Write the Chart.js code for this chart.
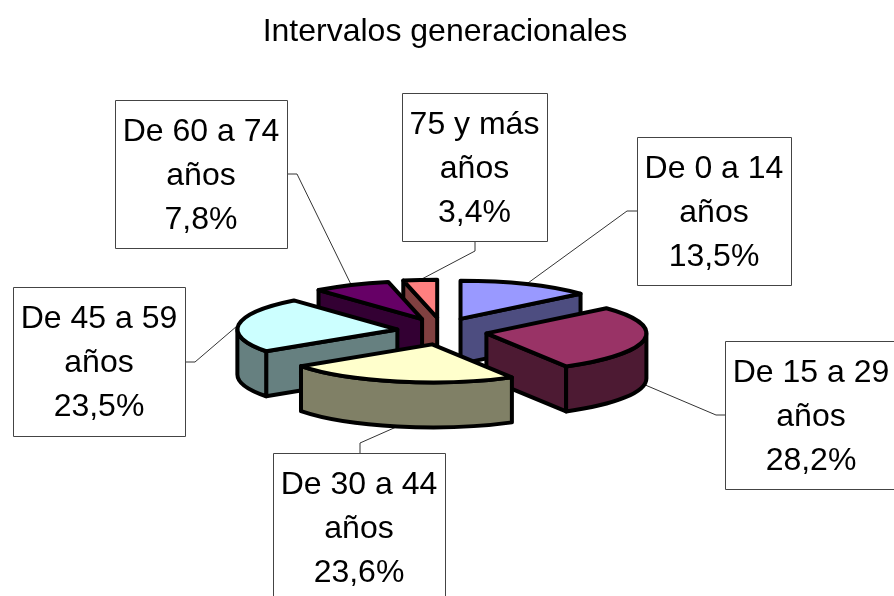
<!DOCTYPE html>
<html>
<head>
<meta charset="utf-8">
<title>Intervalos generacionales</title>
<script src="https://cdn.jsdelivr.net/npm/chart.js@4"></script>
<style>
  html, body { margin: 0; padding: 0; background: #ffffff; overflow: hidden; }
  canvas { display: block; }
</style>
</head>
<body>
<canvas id="pie" width="894" height="596"></canvas>
<script>
// Chart data
const tramos = ['De 0 a 14', 'De 15 a 29', 'De 30 a 44', 'De 45 a 59', 'De 60 a 74', '75 y más'];
const porcentajes = [13.5, 28.2, 23.6, 23.5, 7.8, 3.4];
const unidad = 'años';
const titulo = 'Intervalos generacionales';

// Slice colours: top face and the darker side walls
const coloresCara = ['#9999ff', '#993366', '#ffffcc', '#ccffff', '#660066', '#ff8080'];
const coloresPared = ['#4d4d80', '#4d1a33', '#808066', '#668080', '#330033', '#804040'];

// Label boxes: left, top, right, bottom, then the elbow of the leader line
const cajas = [
  { l: 637, t: 137, r: 791, b: 285, from: [637, 211], elbow: [627, 211] },
  { l: 725, t: 341, r: 897, b: 489, from: [725, 415], elbow: [716, 415] },
  { l: 273, t: 453, r: 445, b: 601, from: [360, 453], elbow: [360, 443] },
  { l: 13, t: 287, r: 185, b: 436, from: [185, 362], elbow: [195, 362] },
  { l: 115, t: 100, r: 287, b: 248, from: [287, 174], elbow: [297, 174] },
  { l: 402, t: 93, r: 547, b: 241, from: [475, 241], elbow: [475, 251] }
];

// Fake 3D settings
const FONT = '"Liberation Sans", Arial, sans-serif';
const TILT = 0.238;          // vertical squash of the pie
const EXPLODE = 45;          // distance of each slice from the centre
const EXPLODE_TILT = 0.3;    // vertical squash of that distance
const DEPTH = 45;            // height of the walls
const SHIFT_X = -3;          // pie sits a little left of the title
const OUTLINE = 4;

// Top-face apex of a slice, after explode
function apexOf(arc) {
  const mid = (arc.startAngle + arc.endAngle) / 2;
  return {
    x: arc.x + SHIFT_X + Math.cos(mid) * EXPLODE,
    y: arc.y + Math.sin(mid) * EXPLODE * EXPLODE_TILT
  };
}

function rimPoint(apex, radius, angle) {
  return { x: apex.x + Math.cos(angle) * radius, y: apex.y + Math.sin(angle) * radius * TILT };
}

function strokeBlack(ctx) {
  ctx.lineWidth = OUTLINE;
  ctx.lineJoin = 'round';
  ctx.strokeStyle = '#000000';
  ctx.stroke();
}

// Flat side from the apex to the rim, only if it faces the viewer
function drawRadialWall(ctx, apex, radius, angle, color) {
  const rim = rimPoint(apex, radius, angle);
  ctx.beginPath();
  ctx.moveTo(apex.x, apex.y);
  ctx.lineTo(rim.x, rim.y);
  ctx.lineTo(rim.x, rim.y + DEPTH);
  ctx.lineTo(apex.x, apex.y + DEPTH);
  ctx.closePath();
  ctx.fillStyle = color;
  ctx.fill();
  strokeBlack(ctx);
}

function drawWalls(ctx, arc, color) {
  const apex = apexOf(arc);
  const r = arc.outerRadius;
  if (Math.cos(arc.startAngle) < 0) drawRadialWall(ctx, apex, r, arc.startAngle, color);
  if (Math.cos(arc.endAngle) > 0) drawRadialWall(ctx, apex, r, arc.endAngle, color);

  // Curved wall, only the front half of the rim shows
  const from = Math.max(arc.startAngle, 0);
  const to = Math.min(arc.endAngle, Math.PI);
  if (to > from) {
    ctx.beginPath();
    ctx.ellipse(apex.x, apex.y, r, r * TILT, 0, from, to);
    ctx.ellipse(apex.x, apex.y + DEPTH, r, r * TILT, 0, to, from, true);
    ctx.closePath();
    ctx.fillStyle = color;
    ctx.fill();
    strokeBlack(ctx);
  }
}

function drawTop(ctx, arc) {
  const apex = apexOf(arc);
  // The library fills the face, squashed around the exploded apex
  ctx.save();
  ctx.translate(apex.x, apex.y);
  ctx.scale(1, TILT);
  ctx.translate(-arc.x, -arc.y);
  arc.draw(ctx);
  ctx.restore();
  // Outline in screen space so the pen width stays even
  ctx.beginPath();
  ctx.moveTo(apex.x, apex.y);
  ctx.ellipse(apex.x, apex.y, arc.outerRadius, arc.outerRadius * TILT, 0, arc.startAngle, arc.endAngle);
  ctx.closePath();
  strokeBlack(ctx);
}

function drawLeader(ctx, arc, caja) {
  const mid = (arc.startAngle + arc.endAngle) / 2;
  const tip = rimPoint(apexOf(arc), arc.outerRadius, mid);
  if (Math.sin(mid) > 0) tip.y += DEPTH;
  ctx.beginPath();
  ctx.moveTo(caja.from[0], caja.from[1]);
  ctx.lineTo(caja.elbow[0], caja.elbow[1]);
  ctx.lineTo(tip.x, tip.y);
  ctx.lineWidth = 1;
  ctx.strokeStyle = '#333333';
  ctx.stroke();
}

function drawLabel(ctx, index) {
  const caja = cajas[index];
  ctx.fillStyle = '#ffffff';
  ctx.fillRect(caja.l, caja.t, caja.r - caja.l, caja.b - caja.t);
  ctx.lineWidth = 1;
  ctx.strokeStyle = '#444444';
  ctx.strokeRect(caja.l + 0.5, caja.t + 0.5, caja.r - caja.l, caja.b - caja.t);

  const lines = [tramos[index], unidad, porcentajes[index].toFixed(1).replace('.', ',') + '%'];
  ctx.fillStyle = '#000000';
  ctx.font = '32px ' + FONT;
  ctx.textAlign = 'center';
  ctx.textBaseline = 'alphabetic';
  lines.forEach((line, n) => {
    ctx.fillText(line, (caja.l + caja.r) / 2, caja.t + 41 + n * 44);
  });
}

// Replaces the normal dataset draw so slices can be painted back to front
const pie3d = {
  id: 'pie3d',
  beforeDatasetDraw(chart) {
    const ctx = chart.ctx;
    const arcs = chart.getDatasetMeta(0).data;
    const order = arcs.map((arc, i) => i).sort((a, b) => {
      const midA = (arcs[a].startAngle + arcs[a].endAngle) / 2;
      const midB = (arcs[b].startAngle + arcs[b].endAngle) / 2;
      return Math.sin(midA) - Math.sin(midB);
    });

    arcs.forEach((arc, i) => drawLeader(ctx, arc, cajas[i]));
    order.forEach(i => {
      drawWalls(ctx, arcs[i], coloresPared[i]);
      drawTop(ctx, arcs[i]);
    });
    arcs.forEach((arc, i) => drawLabel(ctx, i));
    return false;
  }
};

new Chart(document.getElementById('pie'), {
  type: 'pie',
  data: {
    labels: tramos,
    datasets: [{
      data: porcentajes,
      backgroundColor: coloresCara,
      borderWidth: 0
    }]
  },
  options: {
    responsive: false,
    animation: false,
    radius: 160,
    layout: { padding: { right: 4, bottom: 1 } },
    plugins: {
      legend: { display: false },
      tooltip: { enabled: false },
      title: {
        display: true,
        text: titulo,
        color: '#000000',
        font: { family: FONT, size: 32, weight: 'normal' },
        padding: { top: 13, bottom: 16 }
      }
    }
  },
  plugins: [pie3d]
});
</script>
</body>
</html>
